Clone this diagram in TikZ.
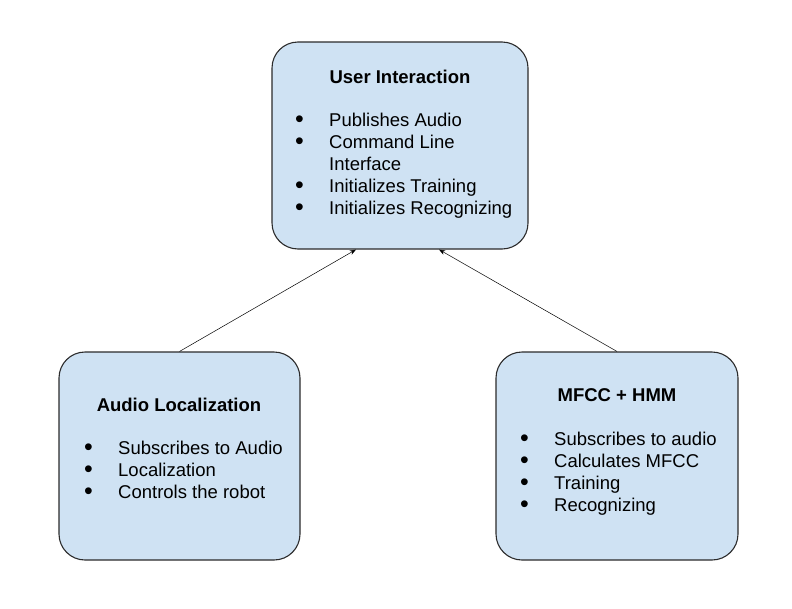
\documentclass[tikz,border=0pt]{standalone}
\usepackage{fontspec}
\setmainfont{Liberation Sans}
\usepackage{xcolor}
\usetikzlibrary{arrows.meta,positioning,calc}
\definecolor{boxfill}{HTML}{CFE2F3}
\definecolor{boxline}{HTML}{2B2B2B}
\tikzset{
  module/.style={draw=boxline, fill=boxfill, rounded corners=26pt, line width=1.1pt,
                 inner sep=0pt},
  heading/.style={font=\fontsize{18.5}{22}\selectfont\bfseries, inner sep=0pt, anchor=base},
  items/.style={font=\fontsize{18.5}{22}\selectfont, align=left, inner sep=0pt,
                anchor=north west},
  link/.style={-{Stealth[length=2.2mm,width=1.6mm]}, line width=0.5pt, draw=black}
}
\newcommand{\itm}[1]{\makebox[34pt][l]{\smash{\raisebox{-0.6pt}{\scalebox{1.35}{\textbullet}}}}#1}
\newcommand{\cnt}[1]{\makebox[34pt][l]{}#1}

\begin{document}
\begin{tikzpicture}[x=1pt,y=1pt]
    \useasboundingbox (0,0) rectangle (792,-608);

    % ===== top: user interaction =====
    \node[module, minimum width=256pt, minimum height=207pt] (ui) at (400,-145.5) {};
    \node[heading] (uititle) at (400,-83) {User Interaction};
    \node[items] (uilist) at (295,-113)
      {\itm{Publishes Audio}\\\itm{Command Line}\\\cnt{Interface}\\
       \itm{Initializes Training}\\\itm{Initializes Recognizing}};

    % ===== bottom left: audio localization =====
    \node[module, minimum width=241pt, minimum height=208pt] (al) at (179.5,-456) {};
    \node[heading] (altitle) at (179,-411) {Audio Localization};
    \node[items] (allist) at (84,-441)
      {\itm{Subscribes to Audio}\\\itm{Localization}\\\itm{Controls the robot}};

    % ===== bottom right: mfcc + hmm =====
    \node[module, minimum width=242pt, minimum height=208pt] (mf) at (617,-456) {};
    \node[heading] (mftitle) at (617,-401) {MFCC + HMM};
    \node[items] (mflist) at (520,-432)
      {\itm{Subscribes to audio}\\\itm{Calculates MFCC}\\\itm{Training}\\\itm{Recognizing}};

    % ===== links =====
    \draw[link] (al.north) -- ([xshift=-44pt]ui.south);
    \draw[link] (mf.north) -- ([xshift=39pt]ui.south);
\end{tikzpicture}
\end{document}
